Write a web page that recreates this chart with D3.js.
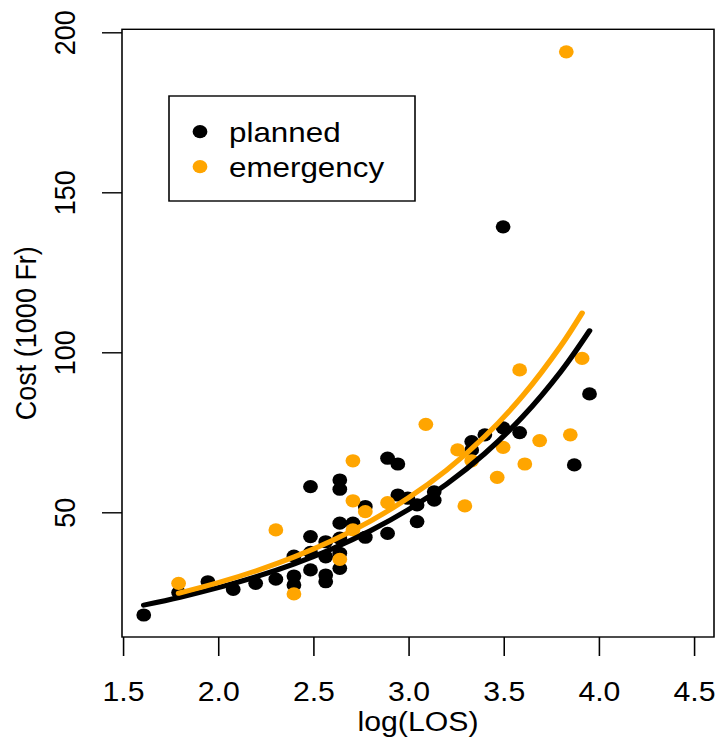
<!DOCTYPE html>
<html>
<head>
<meta charset="utf-8">
<script src="https://cdn.jsdelivr.net/npm/d3@7"></script>
<style>
  html, body { margin: 0; padding: 0; background: #fff; }
  svg { display: block; }
  text { font-family: "Liberation Sans", Arial, Helvetica, sans-serif; fill: #000; }
</style>
</head>
<body>
<svg id="chart" width="718" height="743"></svg>
<script>
// Hospital stays: cost against log length of stay, by admission type.
const planned_x = [1.609, 1.792, 1.946, 2.079, 2.197, 2.303, 2.398, 2.398, 2.398,
  2.485, 2.485, 2.485, 2.485, 2.565, 2.565, 2.565, 2.565,
  2.639, 2.639, 2.639, 2.639, 2.639, 2.639, 2.708, 2.773, 2.773,
  2.890, 2.944, 2.944, 2.996, 3.045, 3.135, 3.135, 3.045, 2.890,
  3.332, 3.332, 3.401, 3.497, 3.584, 3.871, 3.951, 3.497];
const planned_y = [17.9, 24.9, 28.3, 25.9, 27.8, 29.1, 36.3, 30.1, 27.3,
  58.0, 42.4, 37.5, 32.0, 40.8, 36.1, 30.4, 28.3,
  60.1, 57.2, 46.6, 41.9, 37.2, 32.5, 46.6, 51.8, 42.2,
  66.9, 65.1, 55.4, 54.4, 52.3, 56.4, 53.8, 47.1, 43.4,
  72.1, 69.5, 74.2, 76.4, 74.9, 64.8, 87.0, 139.2];

const emergency_x = [1.792, 2.303, 2.398, 2.708, 2.708, 2.773, 2.639, 2.708,
  3.912, 3.584, 3.091, 3.258, 3.332, 3.497, 3.689, 3.850, 3.611, 3.466,
  3.296, 2.890, 3.829];
const emergency_y = [27.8, 44.5, 24.5, 66.1, 53.6, 50.2, 35.3, 44.5,
  98.1, 94.5, 77.5, 69.5, 66.1, 70.3, 72.4, 74.2, 65.1, 60.9,
  52.0, 53.0, 193.9];

// Fitted cost curves for each admission type
const fit_planned_x = [1.609, 1.8, 2.0, 2.2, 2.4, 2.6, 2.8, 3.0, 3.2, 3.4, 3.6, 3.8, 3.951];
const fit_planned_y = [21.0, 23.46, 26.43, 29.87, 33.90, 38.64, 44.23, 50.86, 58.79, 68.33, 79.88, 93.97, 106.73];
const fit_emergency_x = [1.792, 2.0, 2.2, 2.4, 2.6, 2.8, 3.0, 3.2, 3.4, 3.6, 3.8, 3.912];
const fit_emergency_y = [24.7, 28.00, 31.71, 36.07, 41.20, 47.27, 54.51, 63.18, 73.65, 86.39, 101.99, 112.28];

const xTicks = [1.5, 2.0, 2.5, 3.0, 3.5, 4.0, 4.5];
const yTicks = [50, 100, 150, 200];
const legendLabels = ["planned", "emergency"];
const colors = ["#000000", "#FFA500"];

// The whole drawing is slightly wider than tall in its proportions.
const SX = 1.12;
const plotL = 122, plotR = 714, plotT = 29.3, plotB = 637;

const svg = d3.select("#chart");
const g = svg.append("g").attr("transform", `scale(${SX},1)`);

const x = d3.scaleLinear().domain([1.4947, 4.605]).range([plotL / SX, plotR / SX]);
const y = d3.scaleLinear().domain([11.03, 200.94]).range([plotB, plotT]);

// Points
const pts = [
  { xs: planned_x, ys: planned_y, color: colors[0] },
  { xs: emergency_x, ys: emergency_y, color: colors[1] }
];
pts.forEach(s => {
  g.append("g").selectAll("circle")
    .data(d3.range(s.xs.length))
    .join("circle")
    .attr("cx", i => x(s.xs[i]))
    .attr("cy", i => y(s.ys[i]))
    .attr("r", 6.6)
    .attr("fill", s.color);
});

// Fitted lines
const line = d3.line()
  .x(d => x(d[0]))
  .y(d => y(d[1]))
  .curve(d3.curveCatmullRom);
[[fit_planned_x, fit_planned_y, colors[0]], [fit_emergency_x, fit_emergency_y, colors[1]]]
  .forEach(([xs, ys, c]) => {
    g.append("path")
      .datum(xs.map((v, i) => [v, ys[i]]))
      .attr("d", line)
      .attr("fill", "none")
      .attr("stroke", c)
      .attr("stroke-width", 5)
      .attr("stroke-linecap", "round");
  });

// Frame
g.append("rect")
  .attr("x", plotL / SX).attr("y", plotT)
  .attr("width", (plotR - plotL) / SX).attr("height", plotB - plotT)
  .attr("fill", "none").attr("stroke", "#000").attr("stroke-width", 1.4);

// X axis
const xAxis = g.append("g")
  .attr("transform", `translate(0,${plotB})`)
  .call(d3.axisBottom(x).tickValues(xTicks).tickFormat(d3.format(".1f")).tickSize(19));
xAxis.select(".domain").remove();
xAxis.selectAll(".tick line").attr("stroke", "#000").attr("stroke-width", 1.4);
xAxis.selectAll(".tick text")
  .attr("y", 64).attr("dy", null)
  .attr("font-size", 27)
  .attr("fill", "#000")
  .style("font-family", "'Liberation Sans', Arial, sans-serif");

// Y axis
const yAxis = g.append("g")
  .attr("transform", `translate(${plotL / SX},0)`)
  .call(d3.axisLeft(y).tickValues(yTicks).tickSize(20 / SX));
yAxis.select(".domain").remove();
yAxis.selectAll(".tick line").attr("stroke", "#000").attr("stroke-width", 1.4);
yAxis.selectAll(".tick text")
  .attr("x", null).attr("dy", null)
  .attr("transform", `translate(${-47 / SX},0) rotate(-90)`)
  .attr("text-anchor", "middle")
  .attr("font-size", 27)
  .attr("fill", "#000")
  .style("font-family", "'Liberation Sans', Arial, sans-serif");

// Axis titles
g.append("text")
  .attr("x", ((plotL + plotR) / 2) / SX).attr("y", 731)
  .attr("text-anchor", "middle").attr("font-size", 27)
  .text("log(LOS)");
g.append("text")
  .attr("transform", `translate(${36 / SX},${(plotT + plotB) / 2}) rotate(-90)`)
  .attr("text-anchor", "middle").attr("font-size", 27)
  .text("Cost (1000 Fr)");

// Legend
const lg = g.append("g");
lg.append("rect")
  .attr("x", 169 / SX).attr("y", 96)
  .attr("width", (415 - 169) / SX).attr("height", 105)
  .attr("fill", "#fff").attr("stroke", "#000").attr("stroke-width", 1.4);
legendLabels.forEach((lab, i) => {
  const cy = 131.7 + i * 35;
  lg.append("circle").attr("cx", 200 / SX).attr("cy", cy).attr("r", 6.6).attr("fill", colors[i]);
  lg.append("text").attr("x", 229 / SX).attr("y", cy + 10)
    .attr("font-size", 28).text(lab);
});
</script>
</body>
</html>
